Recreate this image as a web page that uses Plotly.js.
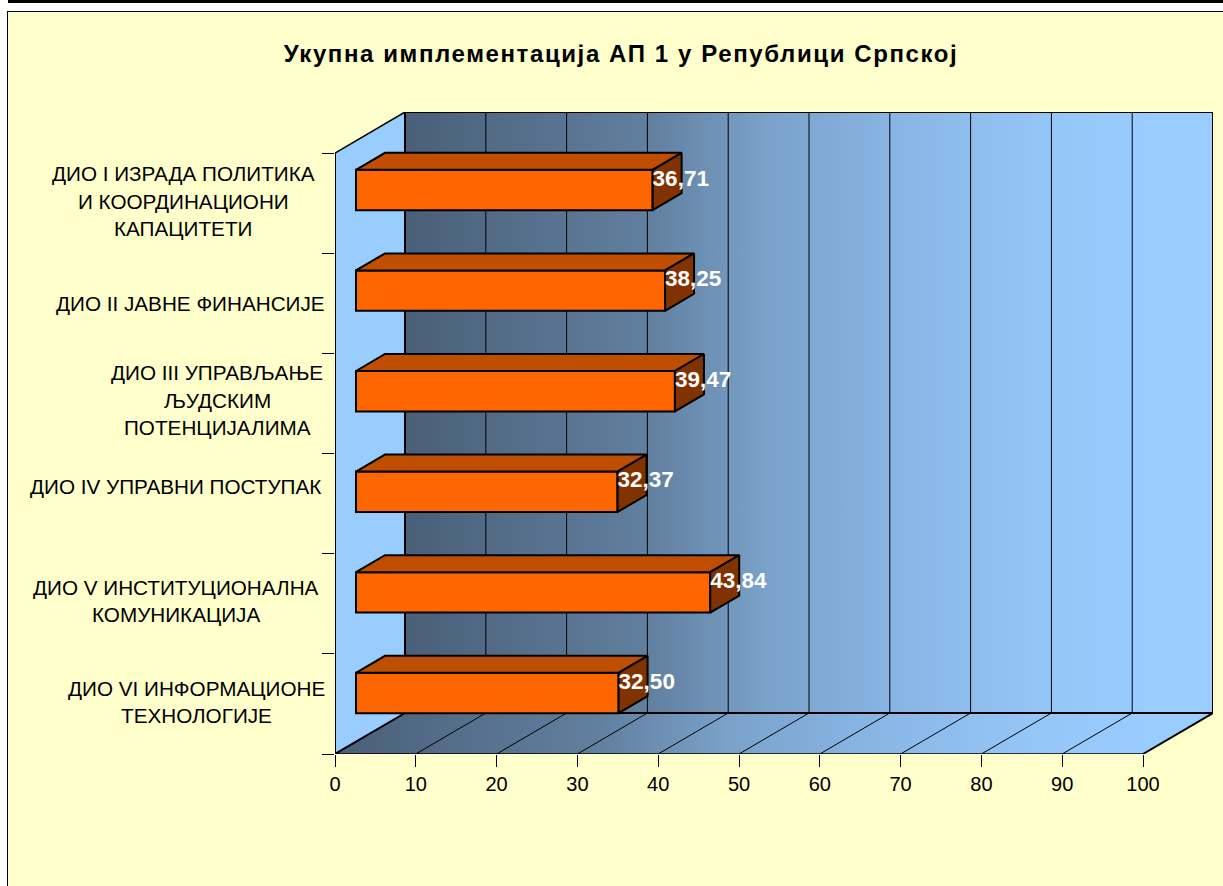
<!DOCTYPE html>
<html><head><meta charset="utf-8">
<script src="https://cdn.plot.ly/plotly-3.0.1.min.js"></script>
<style>
html,body{margin:0;padding:0;background:#fff;overflow:hidden;width:1223px;height:886px}
#rule{position:absolute;left:8px;top:0;width:1215px;height:3px;background:#000}
#rulev{position:absolute;left:902px;top:0;width:2px;height:3px;background:#000}
#frame{position:absolute;left:7px;top:11px;width:1216px;height:875px;border-left:1px solid #000;border-top:1px solid #000;box-sizing:border-box}
#chart{width:1215px;height:874px}
.gtitle{letter-spacing:1.6px}
</style></head><body>
<div id="rule"></div><div id="rulev"></div>
<div id="frame"><div id="chart"></div></div>
<script>
const chartTitle = 'Укупна имплементација АП 1 у Републици Српској';
const categories = [
  ['ДИО I ИЗРАДА ПОЛИТИКА','И КООРДИНАЦИОНИ','КАПАЦИТЕТИ'],
  ['ДИО II ЈАВНЕ ФИНАНСИЈЕ'],
  ['ДИО III УПРАВЉАЊЕ','ЉУДСКИМ','ПОТЕНЦИЈАЛИМА'],
  ['ДИО IV УПРАВНИ ПОСТУПАК'],
  ['ДИО V ИНСТИТУЦИОНАЛНА','КОМУНИКАЦИЈА'],
  ['ДИО VI ИНФОРМАЦИОНЕ','ТЕХНОЛОГИЈЕ']
];
const values = [36.71, 38.25, 39.47, 32.37, 43.84, 32.50];
const xTicks = [0,10,20,30,40,50,60,70,80,90,100];

// projection of the 3-D box, in axis units
const pxPerX = 8.08, pxPerY = 601/6;
const wallDx = 70/pxPerX, wallDy = 41/pxPerY;
const barDx = 29/pxPerX, barDy = 17/pxPerY;
const barBase = 21/pxPerX, barHalf = 20.2/pxPerY, barFirst = 37/pxPerY, barStep = 100.6/pxPerY;
const yMax = categories.length;
const xRange = [0, 878/pxPerX], yRange = [yMax, -wallDy];
// label placement in px, relative to the axis origin / category centre
const labelCx = [183,190,217,175,176,196].map(v => v-335);
const labelDy = [-2,0,-3,-17,-3,-2];
const lineGap = 27.5;

const C = {front:'#FF6600', top:'#BF4E00', side:'#803300', wallR:'#99CCFF'};
const grad = {type:'horizontal', colorscale:[[0,'#4A5F78'],[0.3,'#617F9F'],[0.45,'#7AA2CA'],[0.6,'#88B4E3'],[0.8,'#95C6F8'],[0.92,'#99CCFF'],[1,'#99CCFF']]};
const centre = i => barFirst + i*barStep;
const xmax = 100;

function poly(pts){ return {x:pts.map(p=>p[0]), y:pts.map(p=>p[1])}; }
function polys(list){ const x=[],y=[]; list.forEach(pts=>{pts.forEach(p=>{x.push(p[0]);y.push(p[1]);}); x.push(null);y.push(null);}); return {x,y}; }
const base = {hoverinfo:'skip', showlegend:false};

const traces = [];
// walls and floor
traces.push({...base, ...poly([[0,0],[wallDx,-wallDy],[wallDx,yMax-wallDy],[0,yMax],[0,0]]),
  type:'scatter', mode:'lines', fill:'toself', fillcolor:C.wallR, line:{width:0}});
traces.push({...base, ...poly([[wallDx,-wallDy],[xmax+wallDx,-wallDy],[xmax+wallDx,yMax-wallDy],[wallDx,yMax-wallDy],[wallDx,-wallDy]]),
  type:'scatter', mode:'lines', fill:'toself', fillgradient:grad, line:{width:0}});
traces.push({...base, ...poly([[0,yMax],[wallDx,yMax-wallDy],[xmax+wallDx,yMax-wallDy],[xmax,yMax],[0,yMax]]),
  type:'scatter', mode:'lines', fill:'toself', fillgradient:grad, line:{width:0}});
// gridlines
const grid = {x:[],y:[]};
xTicks.slice(1,-1).forEach(t=>{
  grid.x.push(t,t+wallDx,t+wallDx,null);
  grid.y.push(yMax,yMax-wallDy,-wallDy,null);
});
traces.push({...base, ...grid, type:'scatter', mode:'lines', line:{color:'#000',width:1}});
// thin outlines
traces.push({...base, ...polys([[[0,0],[wallDx,-wallDy]],[[xmax,yMax],[0,yMax]]]),
  type:'scatter', mode:'lines', line:{color:'#000',width:1.5}});
// heavy outlines
traces.push({...base, ...polys([[[0,0],[0,yMax],[wallDx,yMax-wallDy],[wallDx,-wallDy],[xmax+wallDx,-wallDy]],
  [[wallDx,yMax-wallDy],[xmax+wallDx,yMax-wallDy],[xmax+wallDx,-wallDy]],
  [[xmax,yMax],[xmax+wallDx,yMax-wallDy]]]),
  type:'scatter', mode:'lines', line:{color:'#000',width:2}});

// bars
traces.push({...base, type:'bar', orientation:'h', xaxis:'x2', yaxis:'y2',
  x:values, y:values.map((v,i)=>centre(i)), base:barBase, width:2*barHalf,
  marker:{color:C.front, line:{color:'#000',width:2}}});
traces.push({...base, ...polys(values.map((v,i)=>{const c=centre(i),e=barBase+v;return [
    [barBase,c-barHalf],[barBase+barDx,c-barHalf-barDy],[e+barDx,c-barHalf-barDy],[e,c-barHalf],[barBase,c-barHalf]];})),
  type:'scatter', mode:'lines', xaxis:'x2', yaxis:'y2', fill:'toself', fillcolor:C.top, line:{color:'#000',width:2}});
traces.push({...base, ...polys(values.map((v,i)=>{const c=centre(i),e=barBase+v;return [
    [e,c-barHalf],[e+barDx,c-barHalf-barDy],[e+barDx,c+barHalf-barDy],[e,c+barHalf],[e,c-barHalf]];})),
  type:'scatter', mode:'lines', xaxis:'x2', yaxis:'y2', fill:'toself', fillcolor:C.side, line:{color:'#000',width:2}});
// value labels
traces.push({...base, type:'scatter', mode:'text', xaxis:'x2', yaxis:'y2',
  x:values.map(v=>barBase+v), y:values.map((v,i)=>centre(i)-10/pxPerY),
  text:values.map(v=>v.toFixed(2).replace('.',',')), textposition:'middle right',
  textfont:{family:'"Liberation Sans",Arial,sans-serif',size:22.5,color:'#fff',weight:'bold'}});

const font = '"Liberation Sans",Arial,sans-serif';
const annotations = [];
categories.forEach((lines,i)=>{
  lines.forEach((t,k)=>{
    annotations.push({text:t, xref:'paper', yref:'y', x:0, y:i+0.5, xanchor:'center', yanchor:'middle',
      xshift:labelCx[i], yshift:-(labelDy[i]+(k-(lines.length-1)/2)*lineGap), showarrow:false,
      font:{family:font,size:20.7,color:'#000'}});
  });
});

const layout = {
  width:1215, height:874, autosize:false, showlegend:false, bargap:0,
  paper_bgcolor:'#FFFFCC', plot_bgcolor:'rgba(0,0,0,0)',
  margin:{l:327,t:100,r:10,b:132,pad:0},
  title:{text:chartTitle, font:{family:font,size:24,weight:'bold',color:'#000'}, x:613/1215, xanchor:'center', y:1-42/874, yanchor:'middle'},
  xaxis:{range:xRange, tickvals:xTicks, ticktext:xTicks.map(String), ticks:'outside', ticklen:12, tickwidth:1, tickcolor:'#000',
    showgrid:false, zeroline:false, showline:false, tickfont:{family:font,size:20,color:'#000'}, fixedrange:true, ticklabelstandoff:0},
  yaxis:{range:yRange, tickvals:categories.map((c,i)=>i).concat([yMax]), ticks:'outside', ticklen:12, tickwidth:1, tickcolor:'#000',
    showticklabels:false, showgrid:false, zeroline:false, showline:false, fixedrange:true},
  xaxis2:{range:xRange, overlaying:'x', visible:false, fixedrange:true},
  yaxis2:{range:yRange, overlaying:'y', visible:false, fixedrange:true},
  annotations
};
Plotly.newPlot('chart', traces, layout, {displayModeBar:false, staticPlot:true});
</script>
</body></html>
